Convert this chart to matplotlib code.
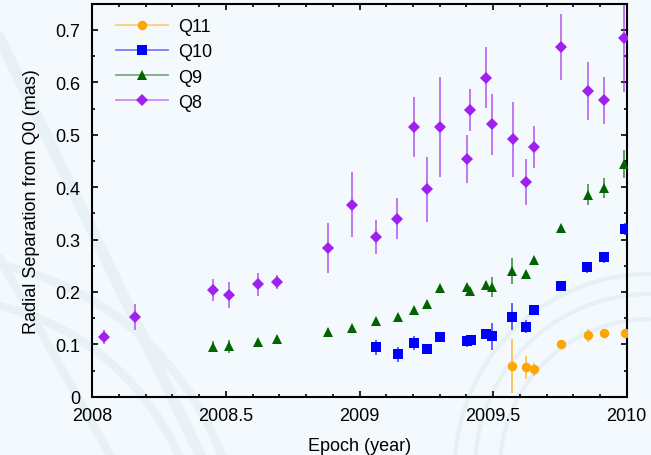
import numpy as np
import matplotlib
matplotlib.use("Agg")
import matplotlib.pyplot as plt
from matplotlib.lines import Line2D
from matplotlib.ticker import MultipleLocator
from matplotlib.colors import to_rgba

# Q11 (orange circles)
q11_t = [2009.572, 2009.624, 2009.654, 2009.754, 2009.854, 2009.914, 2009.994]
q11_r = [0.059, 0.056, 0.052, 0.101, 0.117, 0.122, 0.122]
q11_e = [0.052, 0.022, 0.013, 0.008, 0.012, 0.006, 0.006]

# Q10 (blue squares)
q10_t = [2009.063, 2009.144, 2009.204, 2009.254, 2009.303, 2009.402, 2009.416,
         2009.474, 2009.494, 2009.572, 2009.624, 2009.654, 2009.754, 2009.852,
         2009.914, 2009.995]
q10_r = [0.094, 0.081, 0.1025, 0.092, 0.114, 0.106, 0.108, 0.120, 0.115, 0.153,
         0.134, 0.165, 0.211, 0.247, 0.266, 0.320]
q10_e = [0.015, 0.014, 0.013, 0.005, 0.006, 0.011, 0.006, 0.008, 0.025, 0.025,
         0.012, 0.006, 0.005, 0.010, 0.010, 0.011]

# Q9 (green triangles)
q9_t = [2008.451, 2008.513, 2008.621, 2008.693, 2008.881, 2008.973, 2009.063,
        2009.144, 2009.203, 2009.253, 2009.303, 2009.402, 2009.414, 2009.472,
        2009.494, 2009.572, 2009.624, 2009.654, 2009.754, 2009.854, 2009.914,
        2009.991]
q9_r = [0.0955, 0.096, 0.105, 0.111, 0.123, 0.1305, 0.1445, 0.153, 0.1655,
        0.1775, 0.208, 0.2087, 0.2017, 0.2137, 0.2094, 0.240, 0.2335, 0.260,
        0.3225, 0.3855, 0.399, 0.444]
q9_e = [0.010, 0.013, 0.006, 0.005, 0.008, 0.005, 0.006, 0.005, 0.006, 0.006,
        0.006, 0.006, 0.006, 0.008, 0.019, 0.025, 0.006, 0.006, 0.006, 0.020,
        0.019, 0.026]

# Q8 (purple diamonds)
q8_t = [2008.042, 2008.161, 2008.451, 2008.513, 2008.621, 2008.693, 2008.881,
        2008.973, 2009.063, 2009.142, 2009.204, 2009.252, 2009.303, 2009.404,
        2009.412, 2009.472, 2009.494, 2009.574, 2009.624, 2009.654, 2009.754,
        2009.854, 2009.914, 2009.991]
q8_r = [0.114, 0.152, 0.203, 0.194, 0.2145, 0.2195, 0.284, 0.366, 0.305, 0.340,
        0.515, 0.396, 0.515, 0.4536, 0.548, 0.609, 0.520, 0.491, 0.409, 0.477,
        0.667, 0.583, 0.566, 0.685]
q8_e = [0.013, 0.025, 0.021, 0.025, 0.022, 0.013, 0.047, 0.062, 0.032, 0.039,
        0.057, 0.062, 0.096, 0.046, 0.040, 0.058, 0.058, 0.071, 0.044, 0.040,
        0.063, 0.055, 0.045, 0.103]

x_ticks = [2008, 2008.5, 2009, 2009.5, 2010]
x_labels = ['2008', '2008.5', '2009', '2009.5', '2010']
y_ticks = [0, 0.1, 0.2, 0.3, 0.4, 0.5, 0.6, 0.7]
y_labels = ['0', '0.1', '0.2', '0.3', '0.4', '0.5', '0.6', '0.7']

plt.rcParams['font.family'] = ['Liberation Sans', 'DejaVu Sans']
plt.rcParams['font.size'] = 13

bg = '#f3f9fc'
fig = plt.figure(figsize=(6.51, 4.56), dpi=100, facecolor=bg)

# faint watermark arcs in the background
wm = fig.add_axes([0, 0, 1, 1], zorder=-5)
wm.set_xlim(0, 651)
wm.set_ylim(456, 0)
wm.axis('off')
th = np.linspace(0, 2 * np.pi, 400)
for rad in (150, 175, 195):
    wm.plot(650 + rad * np.cos(th), 470 + rad * np.sin(th), color='#e6f0f5', lw=3)
for rad in (260, 300):
    wm.plot(-60 + rad * np.cos(th), 560 + rad * np.sin(th), color='#e8f1f6', lw=6)
wm.plot([0, 200], [40, 456], color='#e8f1f6', lw=8)
wm.plot([0, 110], [260, 456], color='#e8f1f6', lw=6)

ax = fig.add_axes([0.1418, 0.1278, 0.8209, 0.8619])
ax.set_facecolor('none')

series = [
    ('Q11', q11_t, q11_r, q11_e, '#ffa500', 'o', 6.8),
    ('Q10', q10_t, q10_r, q10_e, '#0000ff', 's', 6.8),
    ('Q9', q9_t, q9_r, q9_e, '#006400', '^', 7.6),
    ('Q8', q8_t, q8_r, q8_e, '#a020f0', 'D', 6.4),
]

handles = []
for name, t, r, e, c, m, ms in series:
    ax.errorbar(t, r, yerr=e, fmt='none', ecolor=to_rgba(c, 0.65), elinewidth=1.3,
                capsize=0, zorder=2)
for name, t, r, e, c, m, ms in reversed(series):
    ax.plot(t, r, linestyle='none', marker=m, markersize=ms, color=c,
            markeredgewidth=0, zorder=3)
for name, t, r, e, c, m, ms in series:
    handles.append(Line2D([0], [0], color=to_rgba(c, 0.5), lw=1.3, marker=m,
                          markersize=ms, markerfacecolor=c, markeredgecolor=c,
                          markeredgewidth=0, label=name))

ax.set_xlim(2008, 2010)
ax.set_ylim(0, 0.75)
ax.xaxis.set_minor_locator(MultipleLocator(0.1))
ax.yaxis.set_minor_locator(MultipleLocator(0.05))
ax.set_xticks(x_ticks)
ax.set_xticklabels(x_labels)
ax.set_yticks(y_ticks)
ax.set_yticklabels(y_labels)
ax.tick_params(which='both', direction='in', top=True, right=True,
               width=1.2, colors='black', labelsize=13)
ax.tick_params(which='major', length=4.5)
ax.tick_params(which='minor', length=2.5)
ax.tick_params(axis='x', which='major', pad=7.5)
ax.tick_params(axis='y', which='major', pad=8.5)
for s in ax.spines.values():
    s.set_linewidth(1.5)

ax.set_xlabel('Epoch (year)', fontsize=13, labelpad=9)
ax.set_ylabel('Radial Separation from Q0 (mas)', fontsize=13, labelpad=11)

ax.legend(handles=handles, loc='upper left', frameon=False, fontsize=13,
          handlelength=2.9, handletextpad=0.55, labelspacing=0.45,
          bbox_to_anchor=(0.02, 0.995), borderaxespad=0.3)

fig.savefig('out.png', dpi=100, facecolor=bg)
